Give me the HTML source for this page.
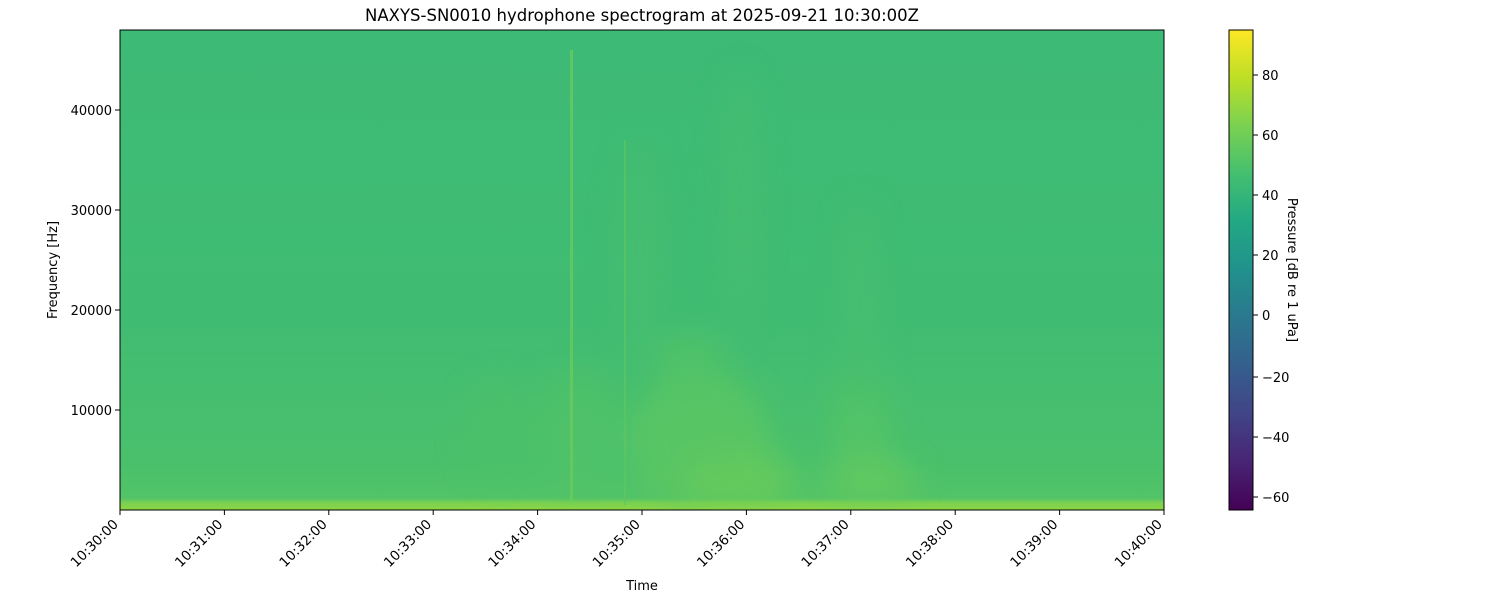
<!DOCTYPE html>
<html><head><meta charset="utf-8"><style>
body{margin:0;background:#fff;}
svg{display:block;font-family:"DejaVu Sans","Liberation Sans",sans-serif;}
</style></head><body>
<svg width="1500" height="600" viewBox="0 0 1500 600">
<defs>
<linearGradient id="base" x1="0" y1="0" x2="0" y2="1">
<stop offset="0" stop-color="#3dba76"/>
<stop offset="0.6" stop-color="#40bc72"/>
<stop offset="0.9" stop-color="#4ac06c"/>
<stop offset="0.975" stop-color="#52c367"/>
<stop offset="0.985" stop-color="#7ad151"/>
<stop offset="1" stop-color="#8ed644"/>
</linearGradient>
<linearGradient id="cb" x1="0" y1="1" x2="0" y2="0">
<stop offset="0" stop-color="#440154"/>
<stop offset="0.1" stop-color="#482475"/>
<stop offset="0.2" stop-color="#414487"/>
<stop offset="0.3" stop-color="#355f8d"/>
<stop offset="0.4" stop-color="#2a788e"/>
<stop offset="0.5" stop-color="#21918c"/>
<stop offset="0.6" stop-color="#22a884"/>
<stop offset="0.7" stop-color="#44bf70"/>
<stop offset="0.8" stop-color="#7ad151"/>
<stop offset="0.9" stop-color="#bddf26"/>
<stop offset="1" stop-color="#fde725"/>
</linearGradient>
<filter id="bl" x="-50%" y="-50%" width="200%" height="200%"><feGaussianBlur stdDeviation="15"/></filter>
<clipPath id="cp"><rect x="120" y="30" width="1044" height="480"/></clipPath>
</defs>
<rect x="120" y="30" width="1044" height="480" fill="url(#base)"/>
<g clip-path="url(#cp)">
<g filter="url(#bl)" opacity="0.6">
<ellipse cx="700" cy="440" rx="70" ry="70" fill="#62c95e"/>
<ellipse cx="690" cy="360" rx="35" ry="25" fill="#5ac664"/>
<ellipse cx="740" cy="480" rx="55" ry="30" fill="#72cf55"/>
<ellipse cx="580" cy="430" rx="45" ry="60" fill="#52c367"/>
<ellipse cx="500" cy="430" rx="35" ry="50" fill="#4ec169"/>
<ellipse cx="860" cy="430" rx="30" ry="60" fill="#5ac664"/>
<ellipse cx="740" cy="200" rx="18" ry="130" fill="#48bf6d"/>
<ellipse cx="640" cy="250" rx="22" ry="110" fill="#48bf6d"/>
<ellipse cx="860" cy="300" rx="20" ry="100" fill="#48bf6d"/>
<ellipse cx="870" cy="480" rx="45" ry="25" fill="#6ccd5a"/>
</g>
<rect x="570" y="50" width="3" height="455" fill="#6ecd58" opacity="0.7"/>
<rect x="624" y="140" width="2" height="365" fill="#5cc662" opacity="0.7"/>
</g>
<rect x="120" y="30" width="1044" height="480" fill="none" stroke="#000" stroke-width="1"/>
<text x="642" y="21" text-anchor="middle" font-size="16.5">NAXYS-SN0010 hydrophone spectrogram at 2025-09-21 10:30:00Z</text>
<g font-size="13" text-anchor="end">
<line x1="115" y1="110" x2="120" y2="110" stroke="#000"/><text x="112" y="115">40000</text>
<line x1="115" y1="210" x2="120" y2="210" stroke="#000"/><text x="112" y="215">30000</text>
<line x1="115" y1="310" x2="120" y2="310" stroke="#000"/><text x="112" y="315">20000</text>
<line x1="115" y1="410" x2="120" y2="410" stroke="#000"/><text x="112" y="415">10000</text>
</g>
<text transform="translate(57,270) rotate(-90)" text-anchor="middle" font-size="13">Frequency [Hz]</text>
<g stroke="#000">
<line x1="120" y1="510" x2="120" y2="515"/><line x1="224.4" y1="510" x2="224.4" y2="515"/><line x1="328.8" y1="510" x2="328.8" y2="515"/><line x1="433.2" y1="510" x2="433.2" y2="515"/><line x1="537.6" y1="510" x2="537.6" y2="515"/><line x1="642" y1="510" x2="642" y2="515"/><line x1="746.4" y1="510" x2="746.4" y2="515"/><line x1="850.8" y1="510" x2="850.8" y2="515"/><line x1="955.2" y1="510" x2="955.2" y2="515"/><line x1="1059.6" y1="510" x2="1059.6" y2="515"/><line x1="1164" y1="510" x2="1164" y2="515"/>
</g>
<g font-size="13.5" text-anchor="end">
<text transform="translate(119,525) rotate(-45)">10:30:00</text>
<text transform="translate(223.4,525) rotate(-45)">10:31:00</text>
<text transform="translate(327.8,525) rotate(-45)">10:32:00</text>
<text transform="translate(432.2,525) rotate(-45)">10:33:00</text>
<text transform="translate(536.6,525) rotate(-45)">10:34:00</text>
<text transform="translate(641,525) rotate(-45)">10:35:00</text>
<text transform="translate(745.4,525) rotate(-45)">10:36:00</text>
<text transform="translate(849.8,525) rotate(-45)">10:37:00</text>
<text transform="translate(954.2,525) rotate(-45)">10:38:00</text>
<text transform="translate(1058.6,525) rotate(-45)">10:39:00</text>
<text transform="translate(1163,525) rotate(-45)">10:40:00</text>
</g>
<text x="642" y="590" text-anchor="middle" font-size="13">Time</text>
<rect x="1229" y="30" width="24" height="480" fill="url(#cb)" stroke="#000" stroke-width="1"/>
<g stroke="#000">
<line x1="1253" y1="75" x2="1258" y2="75"/><line x1="1253" y1="135" x2="1258" y2="135"/><line x1="1253" y1="195" x2="1258" y2="195"/><line x1="1253" y1="255" x2="1258" y2="255"/><line x1="1253" y1="315" x2="1258" y2="315"/><line x1="1253" y1="377" x2="1258" y2="377"/><line x1="1253" y1="437" x2="1258" y2="437"/><line x1="1253" y1="497" x2="1258" y2="497"/>
</g>
<g font-size="13">
<text x="1262" y="80">80</text><text x="1262" y="140">60</text><text x="1262" y="200">40</text><text x="1262" y="260">20</text><text x="1262" y="320">0</text><text x="1262" y="382">−20</text><text x="1262" y="442">−40</text><text x="1262" y="502">−60</text>
</g>
<text transform="translate(1288,270) rotate(90)" text-anchor="middle" font-size="13">Pressure [dB re 1 uPa]</text>
</svg>
</body></html>
